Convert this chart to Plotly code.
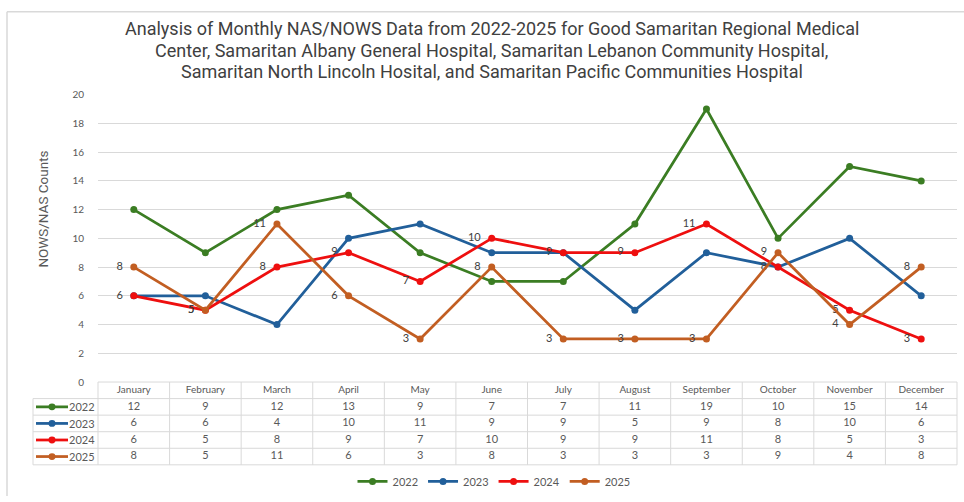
import plotly.graph_objects as go

# ---------------- data ----------------
months = ["January", "February", "March", "April", "May", "June",
          "July", "August", "September", "October", "November", "December"]
years = ["2022", "2023", "2024", "2025"]
v2022 = [12, 9, 12, 13, 9, 7, 7, 11, 19, 10, 15, 14]
v2023 = [6, 6, 4, 10, 11, 9, 9, 5, 9, 8, 10, 6]
v2024 = [6, 5, 8, 9, 7, 10, 9, 9, 11, 8, 5, 3]
v2025 = [8, 5, 11, 6, 3, 8, 3, 3, 3, 9, 4, 8]
y_ticks = [0, 2, 4, 6, 8, 10, 12, 14, 16, 18, 20]

series = [
    ("2022", v2022, "#3B7D23", False),
    ("2023", v2023, "#215F9A", False),
    ("2024", v2024, "#EE0F0F", True),
    ("2025", v2025, "#C25E22", True),
]

title_lines = [
    "Analysis of Monthly NAS/NOWS Data from 2022-2025 for Good Samaritan Regional Medical",
    "Center, Samaritan Albany General Hospital, Samaritan Lebanon Community Hospital,",
    "Samaritan North Lincoln Hosital, and Samaritan Pacific Communities Hospital",
]

# ---------------- layout geometry (pixels) ----------------
W, H = 964, 502
X0, X1 = 98, 957          # category area
Y_TOP, Y_ZERO = 90, 385   # value 20 / value 0
ROW_H = 17
T_BOTTOM = Y_ZERO + 5 * ROW_H
LEG_LEFT = 33
GRID = "#D9D9D9"
TXT = "#595959"
FONT = "Lato, Liberation Sans, Arial, sans-serif"
NARROW = "Liberation Sans Narrow, Roboto, Arial"


def px(x):
    return x / W


def py(y):
    return 1 - y / H


fig = go.Figure()

for name, vals, col, lab in series:
    fig.add_trace(go.Scatter(
        x=months, y=vals, name=name,
        mode="lines+markers+text" if lab else "lines+markers",
        text=[f"{v}\u00a0\u00a0" for v in vals] if lab else None,
        textposition="middle left",
        textfont=dict(size=11, color="#404040", family=FONT),
        line=dict(color=col, width=2.75),
        marker=dict(size=7, color=col),
        cliponaxis=False, hoverinfo="skip",
    ))

# table header (month names)
fig.add_trace(go.Scatter(
    x=months, y=[0.5] * len(months), mode="text", text=months,
    textfont=dict(size=10, color=TXT, family=FONT),
    xaxis="x2", yaxis="y2", showlegend=False, hoverinfo="skip"))

# table body (values)
for i, (name, vals, col, lab) in enumerate(series):
    fig.add_trace(go.Scatter(
        x=months, y=[i + 1.5] * len(months), mode="text",
        text=[str(v) for v in vals],
        textfont=dict(size=11, color=TXT, family=FONT),
        xaxis="x2", yaxis="y2", showlegend=False, hoverinfo="skip"))

shapes = []
# outer frame
shapes.append(dict(type="line", xref="paper", yref="paper", x0=px(7), x1=1, y0=py(5), y1=py(5),
                   line=dict(color=GRID, width=1.5)))
shapes.append(dict(type="line", xref="paper", yref="paper", x0=px(7), x1=px(7), y0=py(5), y1=0,
                   line=dict(color=GRID, width=1.5)))
# table horizontal lines
for r in range(6):
    y = Y_ZERO + r * ROW_H
    xl = X0 if r == 0 else LEG_LEFT
    shapes.append(dict(type="line", xref="paper", yref="paper", x0=px(xl), x1=px(X1),
                       y0=py(y), y1=py(y), line=dict(color=GRID, width=1)))
# table vertical lines
cw = (X1 - X0) / 12
shapes.append(dict(type="line", xref="paper", yref="paper", x0=px(LEG_LEFT), x1=px(LEG_LEFT),
                   y0=py(Y_ZERO + ROW_H), y1=py(T_BOTTOM), line=dict(color=GRID, width=1)))
for k in range(13):
    x = X0 + k * cw
    shapes.append(dict(type="line", xref="paper", yref="paper", x0=px(x), x1=px(x),
                       y0=py(Y_ZERO), y1=py(T_BOTTOM), line=dict(color=GRID, width=1)))

annotations = []
# legend keys inside table
for i, (name, vals, col, lab) in enumerate(series):
    yc = Y_ZERO + (i + 1.5) * ROW_H
    shapes.append(dict(type="line", xref="paper", yref="paper", x0=px(36), x1=px(68),
                       y0=py(yc), y1=py(yc), line=dict(color=col, width=2.75)))
    shapes.append(dict(type="circle", xref="paper", yref="paper", x0=px(48.5), x1=px(55.5),
                       y0=py(yc + 3.5), y1=py(yc - 3.5), fillcolor=col, line=dict(color=col, width=0)))
    annotations.append(dict(text=name, xref="paper", yref="paper", x=px(97), y=py(yc),
                            xanchor="right", yanchor="middle", showarrow=False,
                            font=dict(size=11, color=TXT, family=FONT)))

# title (three centred lines)
for line, yc in zip(title_lines, [22, 44.5, 66]):
    annotations.append(dict(text=line, xref="paper", yref="paper", x=px(492), y=py(yc),
                            xanchor="center", yanchor="middle", showarrow=False,
                            font=dict(size=18, color="#404040", family=NARROW)))

# y axis title
annotations.append(dict(text="NOWS/NAS Counts", xref="paper", yref="paper", x=px(43), y=py(208),
                        textangle=-90, showarrow=False, xanchor="center", yanchor="middle",
                        font=dict(size=13.5, color=TXT, family=NARROW)))

fig.update_layout(
    width=W, height=H,
    margin=dict(l=0, r=0, t=0, b=0),
    paper_bgcolor="white", plot_bgcolor="white",
    xaxis=dict(type="category", categoryorder="array", categoryarray=months,
               range=[-0.5, 11.5], domain=[px(X0), px(X1)], showticklabels=False,
               showgrid=False, zeroline=False, showline=False, ticks="", fixedrange=True),
    yaxis=dict(range=[0, 20], tickvals=y_ticks, domain=[py(Y_ZERO), py(Y_TOP)],
               gridcolor=GRID, gridwidth=1, zeroline=False, showline=False, ticks="",
               tickfont=dict(size=10, color=TXT, family=FONT), ticklabelstandoff=13,
               fixedrange=True),
    xaxis2=dict(type="category", categoryorder="array", categoryarray=months,
                range=[-0.5, 11.5], domain=[px(X0), px(X1)], anchor="y2", visible=False),
    yaxis2=dict(range=[5, 0], domain=[py(T_BOTTOM), py(Y_ZERO)], anchor="x2", visible=False),
    legend=dict(orientation="h", x=px(494), xanchor="center", y=py(487), yanchor="middle",
                font=dict(size=11, color=TXT, family=FONT), bgcolor="rgba(0,0,0,0)"),
    shapes=shapes, annotations=annotations,
    showlegend=True,
)

fig.write_html("out.html", config={"displayModeBar": False},
               post_script="document.body.style.margin='0';")
